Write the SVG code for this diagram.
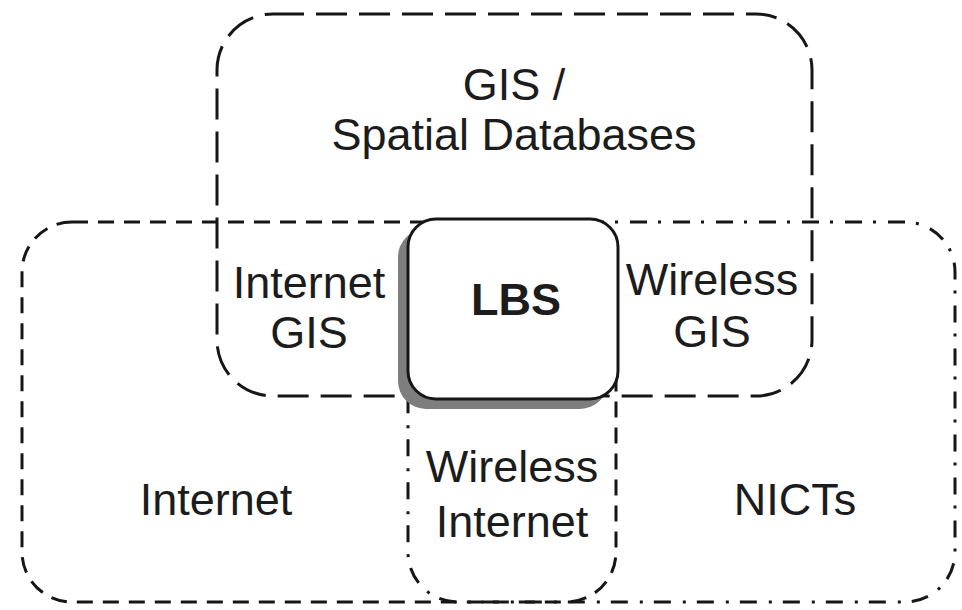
<svg xmlns="http://www.w3.org/2000/svg" width="962" height="610" viewBox="0 0 962 610">
  <defs>
    <style>
      .area { fill: none; stroke: #161616; stroke-width: 3; }
      .gis { stroke-dasharray: 31 12; }
      .net { stroke-dasharray: 16 10; }
      .nict { stroke-dasharray: 17 11 3 12; }
      .lbs { fill: #ffffff; stroke: #161616; stroke-width: 3; }
      .shadow { fill: #7e7e7e; }
      text { font-family: "Liberation Sans", Arial, sans-serif; font-size: 45px; fill: #1c1c1c; text-anchor: middle; }
      .bold { font-weight: bold; }
    </style>
  </defs>
  <rect width="962" height="610" fill="#ffffff"/>

  <!-- overlapping domain outlines -->
  <g id="connectors">
    <rect id="gis-area" class="area gis" x="217" y="14" width="595" height="382" rx="56" ry="56"/>
    <rect id="internet-area" class="area net" x="22" y="222" width="594" height="380" rx="50" ry="50"/>
    <rect id="nicts-area" class="area nict" x="408" y="222" width="547" height="380" rx="50" ry="50"/>
  </g>

  <!-- central LBS node with drop shadow -->
  <g id="lbs">
    <rect class="shadow" x="398" y="229" width="210" height="180" rx="28" ry="28"/>
    <rect class="lbs" x="408" y="219" width="210" height="180" rx="28" ry="28"/>
    <text class="bold" x="516" y="315">LBS</text>
  </g>

  <g id="gis-label">
    <text x="514" y="100">GIS /</text>
    <text x="514" y="150">Spatial Databases</text>
  </g>

  <g id="internet-gis">
    <text x="309" y="298">Internet</text>
    <text x="309" y="348">GIS</text>
  </g>

  <g id="wireless-gis">
    <text x="712" y="295">Wireless</text>
    <text x="712" y="347">GIS</text>
  </g>

  <g id="wireless-internet">
    <text x="512" y="482">Wireless</text>
    <text x="512" y="537">Internet</text>
  </g>

  <g id="internet">
    <text x="216" y="515">Internet</text>
  </g>

  <g id="nicts">
    <text x="795" y="515">NICTs</text>
  </g>
</svg>
